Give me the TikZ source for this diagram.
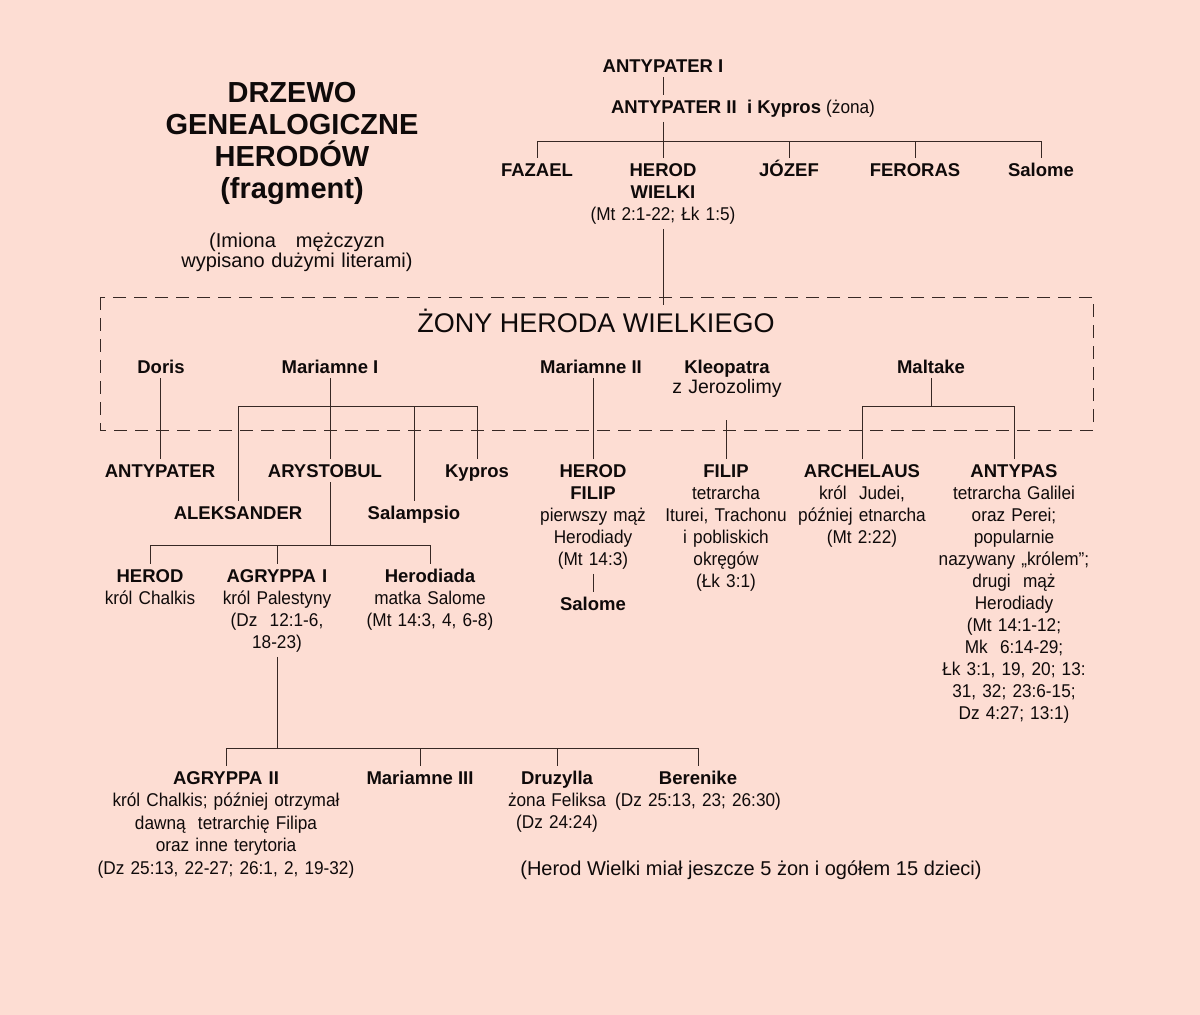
\documentclass[tikz,border=0pt]{standalone}
\usepackage{fontspec}
\setmainfont{Liberation Sans}
\newfontfamily\cond{Liberation Sans}[FakeStretch=0.93]
\definecolor{bgc}{RGB}{253,221,211}
\definecolor{ln}{RGB}{55,40,36}
\definecolor{tx}{RGB}{15,10,10}
\newcommand\dsc[1]{{\cond\mdseries #1}}
\begin{document}
\begin{tikzpicture}[x=1pt,y=-1pt,
  nm/.style={inner sep=0pt, outer sep=5pt, text height=13.5pt, anchor=base, align=center, text=tx, font=\fontsize{18.5}{22}\selectfont\bfseries},
  nmb/.style={nm, text width=300pt},
  conn/.style={draw=ln, line width=1pt},
  wbox/.style={draw=ln, line width=1pt, dash pattern=on 13pt off 8pt},
  ]
\fill[bgc] (0,0) rectangle (1200,1015);
\useasboundingbox (0,0) rectangle (1200,1015);

% title
\node[anchor=base, inner sep=0pt, align=center, text width=400pt, text=tx, font=\fontsize{29}{32}\selectfont\bfseries] (title) at (292,102) {DRZEWO\\GENEALOGICZNE\\HERODÓW\\(fragment)};
\node[anchor=base, inner sep=0pt, align=center, text width=400pt, text=tx, font=\fontsize{20}{20}\selectfont] (sub) at (297,247) {(Imiona\ \ \ mężczyzn\\wypisano dużymi literami)};

% top generations
\node[nm] (a1) at (663,72) {ANTYPATER I};
\node[nm] (a2) at (743,113) {ANTYPATER II\ \ i Kypros \dsc{(żona)}};
\node[nm] (faz) at (537,176) {FAZAEL};
\node[nmb] (hw) at (663,176) {HEROD\\WIELKI\\\dsc{(Mt 2:1-22; Łk 1:5)}};
\node[nm] (joz) at (789,176) {JÓZEF};
\node[nm] (fer) at (915,176) {FERORAS};
\node[nm] (sal) at (1041,176) {Salome};

\coordinate (L1) at (663,141);
\draw[conn] (a1.south) -- (a1.south |- a2.north);
\draw[conn] (a1.south |- a2.south) -- (hw.north);
\draw[conn] (faz.north) |- (sal.north |- L1) -- (sal.north);
\draw[conn] (joz.north) -- (joz.north |- L1);
\draw[conn] (fer.north) -- (fer.north |- L1);

% wives box
\coordinate (bx1) at (100,297);
\coordinate (bx2) at (1093,430);
\coordinate (hwend) at (663,305);
\draw[conn] (hw.south) -- (hwend);
\draw[wbox] (bx1) rectangle (bx2);
\node[anchor=base, inner sep=0pt, text=tx, font=\fontsize{27}{30}\selectfont] (zony) at (596,332) {ŻONY HERODA WIELKIEGO};

\node[nm] (doris) at (161,373) {Doris};
\node[nm] (m1) at (330,373) {Mariamne I};
\node[nm] (m2) at (591,373) {Mariamne II};
\node[nmb] (kleo) at (727,373) {Kleopatra\\[-2pt]{\mdseries\fontsize{19.5}{22}\selectfont z Jerozolimy}};
\node[nm] (malt) at (931,373) {Maltake};

% children of wives
\node[nm] (antp) at (160,477) {ANTYPATER};
\node[nm] (ary) at (325,477) {ARYSTOBUL};
\node[nm] (kyp) at (477,477) {Kypros};
\node[nm] (alek) at (238,519) {ALEKSANDER};
\node[nm] (salp) at (414,519) {Salampsio};
\node[nmb] (hf) at (593,477) {HEROD\\FILIP\\\dsc{pierwszy mąż}\\\dsc{Herodiady}\\\dsc{(Mt 14:3)}};
\node[nm] (salo) at (593,610) {Salome};
\node[nmb] (fil) at (726,477) {FILIP\\\dsc{tetrarcha}\\\dsc{Iturei, Trachonu}\\\dsc{i pobliskich}\\\dsc{okręgów}\\\dsc{(Łk 3:1)}};
\node[nmb] (arch) at (862,477) {ARCHELAUS\\\dsc{król\ \ Judei,}\\\dsc{później etnarcha}\\\dsc{(Mt 2:22)}};
\node[nmb] (antpas) at (1014,477) {ANTYPAS\\\dsc{tetrarcha Galilei}\\\dsc{oraz Perei;}\\\dsc{popularnie}\\\dsc{nazywany „królem”;}\\\dsc{drugi\ \ mąż}\\\dsc{Herodiady}\\\dsc{(Mt 14:1-12;}\\\dsc{Mk\ \ 6:14-29;}\\\dsc{Łk 3:1, 19, 20; 13:}\\\dsc{31, 32; 23:6-15;}\\\dsc{Dz 4:27; 13:1)}};

\coordinate (L2) at (0,406);
\draw[conn] (antp.north) -- (antp.north |- doris.south);
\draw[conn] (m1.south) -- (m1.south |- ary.north);
\draw[conn] (alek.north) |- (kyp.north |- L2) -- (kyp.north);
\draw[conn] (salp.north) -- (salp.north |- L2);
\draw[conn] (hf.north) -- (hf.north |- m2.south);
\coordinate (kj) at (727,420);
\draw[conn] (fil.north) -- (fil.north |- kj);
\draw[conn] (malt.south) -- (malt.south |- L2);
\draw[conn] (arch.north) |- (antpas.north |- L2) -- (antpas.north);
\draw[conn] (hf.south) -- (salo.north);

% children of Arystobul
\node[nmb] (her2) at (150,582) {HEROD\\\dsc{król Chalkis}};
\node[nmb] (ag1) at (277,582) {AGRYPPA I\\\dsc{król Palestyny}\\\dsc{(Dz\ \ 12:1-6,}\\\dsc{18-23)}};
\node[nmb] (hrd) at (430,582) {Herodiada\\\dsc{matka Salome}\\\dsc{(Mt 14:3, 4, 6-8)}};
\coordinate (L3) at (0,545);
\draw[conn] (m1.south |- ary.south) -- (m1.south |- L3);
\draw[conn] (her2.north) |- (hrd.north |- L3) -- (hrd.north);
\draw[conn] (ag1.north) -- (ag1.north |- L3);

% children of Agryppa I
\node[nm, text width=320pt, font=\fontsize{18.5}{22.5}\selectfont\bfseries] (ag2) at (226,784) {AGRYPPA II\\\dsc{król Chalkis; później otrzymał}\\\dsc{dawną\ \ tetrarchię Filipa}\\\dsc{oraz inne terytoria}\\\dsc{(Dz 25:13, 22-27; 26:1, 2, 19-32)}};
\node[nm] (mar3) at (420,784) {Mariamne III};
\node[nmb] (dru) at (557,784) {Druzylla\\\dsc{żona Feliksa}\\\dsc{(Dz 24:24)}};
\node[nmb] (ber) at (698,784) {Berenike\\\dsc{(Dz 25:13, 23; 26:30)}};
\coordinate (L4) at (0,748);
\draw[conn] (ag1.south) -- (ag1.south |- L4);
\draw[conn] (ag2.north) |- (ber.north |- L4) -- (ber.north);
\draw[conn] (mar3.north) -- (mar3.north |- L4);
\draw[conn] (dru.north) -- (dru.north |- L4);

\node[anchor=base, inner sep=0pt, text=tx, font=\fontsize{20}{22}\selectfont] (note) at (751,875) {(Herod Wielki miał jeszcze 5 żon i ogółem 15 dzieci)};
\end{tikzpicture}
\end{document}
